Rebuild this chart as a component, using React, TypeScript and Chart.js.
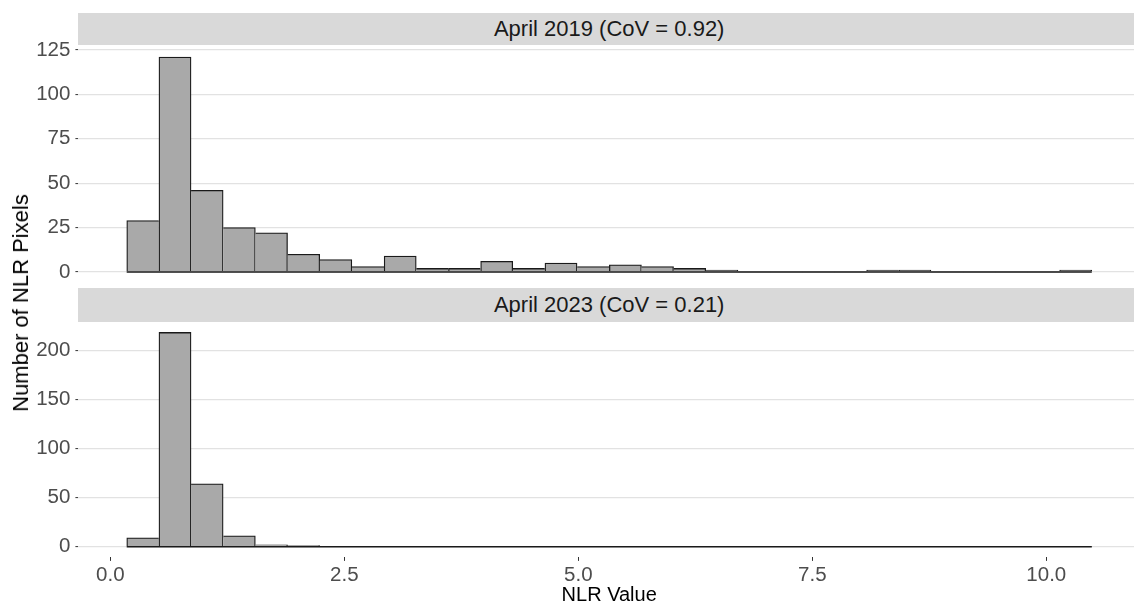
import React, { useEffect, useRef } from 'react';
import { Chart, registerables } from 'chart.js';

Chart.register(...registerables);

// ---------- data ----------
const binCenters = [
  0.347, 0.691, 1.034, 1.378, 1.722, 2.066, 2.409, 2.753, 3.097, 3.44,
  3.784, 4.128, 4.471, 4.815, 5.159, 5.503, 5.846, 6.19, 6.534, 6.877,
  7.221, 7.565, 7.908, 8.252, 8.596, 8.94, 9.283, 9.627, 9.971, 10.314,
];
const counts2019 = [
  29, 121, 46, 25, 22, 10, 7, 3, 9, 2,
  2, 6, 2, 5, 3, 4, 3, 2, 1, 0,
  0, 0, 0, 1, 1, 0, 0, 0, 0, 1,
];
const counts2023 = [
  9, 218, 64, 11, 2, 1, 0, 0, 0, 0,
  0, 0, 0, 0, 0, 0, 0, 0, 0, 0,
  0, 0, 0, 0, 0, 0, 0, 0, 0, 0,
];
const panelTitles = ['April 2019 (CoV = 0.92)', 'April 2023 (CoV = 0.21)'];
const xTickValues = [0, 2.5, 5, 7.5, 10];
const yTicks2019 = [0, 25, 50, 75, 100, 125];
const yTicks2023 = [0, 50, 100, 150, 200];
const xLimits = [-0.341, 11.001];
const yLimits2019 = [-6.05, 127.05];
const yLimits2023 = [-10.9, 228.9];
const xTitle = 'NLR Value';
const yTitle = 'Number of NLR Pixels';

// ---------- style ----------
const FONT = '"Liberation Sans", Arial, Helvetica, sans-serif';
const BAR_FILL = '#a9a9a9';
const BAR_LINE = '#1a1a1a';
const GRID = '#e2e2e2';
const TICK_TEXT = '#4d4d4d';

function makeChart(
  canvas: HTMLCanvasElement,
  counts: number[],
  yLim: number[],
  yTicks: number[],
  showX: boolean,
  padding: any
) {
  const w = binCenters[1] - binCenters[0];
  const baseline = [
    { x: binCenters[0] - w / 2, y: 0 },
    { x: binCenters[binCenters.length - 1] + w / 2, y: 0 },
  ];
  const bw = (ctx: any) => {
    const i = ctx.dataIndex;
    const v = counts[i];
    if (!v) return 0;
    const prev = i > 0 ? counts[i - 1] : 0;
    const next = i < counts.length - 1 ? counts[i + 1] : 0;
    return { top: 1.3, left: prev <= v ? 1.3 : 0, right: next < v ? 1.3 : 0, bottom: 0 };
  };
  return new Chart(canvas, {
    type: 'bar',
    data: {
      datasets: [
        {
          type: 'line',
          data: baseline,
          borderColor: BAR_LINE,
          borderWidth: 1.4,
          pointRadius: 0,
          order: 0,
        } as any,
        {
          type: 'bar',
          data: binCenters.map((x, i) => ({ x, y: counts[i] })),
          backgroundColor: BAR_FILL,
          borderColor: BAR_LINE,
          borderWidth: bw,
          borderSkipped: false,
          barPercentage: 1,
          categoryPercentage: 1,
          order: 1,
        } as any,
      ],
    },
    options: {
      animation: false,
      responsive: false,
      devicePixelRatio: 1,
      layout: { padding },
      plugins: { legend: { display: false }, tooltip: { enabled: false } },
      scales: {
        x: {
          type: 'linear',
          min: xLimits[0],
          max: xLimits[1],
          offset: false,
          display: showX,
          grid: {
            offset: false,
            drawOnChartArea: false,
            drawTicks: true,
            tickLength: 3.5,
            tickColor: '#333333',
            tickWidth: 1,
          },
          border: { display: false },
          ticks: {
            font: { family: FONT, size: 20.5 },
            color: TICK_TEXT,
            padding: 2,
            maxRotation: 0,
            autoSkip: false,
            callback: (v: any) => Number(v).toFixed(1),
          },
          afterBuildTicks: (s: any) => {
            s.ticks = xTickValues.map((v) => ({ value: v }));
          },
          afterFit: (s: any) => {
            s.height = showX ? 45.6 : 0;
          },
        },
        y: {
          type: 'linear',
          min: yLim[0],
          max: yLim[1],
          grid: {
            color: GRID,
            lineWidth: 1.2,
            drawTicks: true,
            tickLength: 3,
            tickColor: '#333333',
            tickWidth: 1,
          },
          border: { display: false },
          ticks: {
            font: { family: FONT, size: 20.5 },
            color: TICK_TEXT,
            padding: 5,
            callback: (v: any) => String(v),
          },
          afterBuildTicks: (s: any) => {
            s.ticks = yTicks.map((v) => ({ value: v }));
          },
          afterFit: (s: any) => {
            s.width = 78.4;
          },
        },
      },
    } as any,
  });
}

const stripStyle = (top: number, height: number): React.CSSProperties => ({
  position: 'absolute',
  left: 78.4,
  top,
  width: 1140 - 78.4,
  height,
  background: '#d9d9d9',
  color: '#1a1a1a',
  fontFamily: FONT,
  fontSize: 22,
  display: 'flex',
  alignItems: 'center',
  justifyContent: 'center',
  paddingTop: 1,
  boxSizing: 'border-box',
  whiteSpace: 'nowrap',
});

export default function App() {
  const topRef = useRef<HTMLCanvasElement>(null);
  const botRef = useRef<HTMLCanvasElement>(null);

  useEffect(() => {
    const a = makeChart(topRef.current!, counts2019, yLimits2019, yTicks2019, false, {
      top: 46.4,
      bottom: 6.3,
      left: 0,
      right: 1,
    });
    const b = makeChart(botRef.current!, counts2023, yLimits2023, yTicks2023, true, {
      top: 33.7,
      bottom: 0,
      left: 0,
      right: 1,
    });
    return () => {
      a.destroy();
      b.destroy();
    };
  }, []);

  return (
    <div
      style={{
        position: 'absolute',
        left: 0,
        top: 0,
        width: 1134,
        height: 603,
        overflow: 'hidden',
        background: '#ffffff',
        fontFamily: FONT,
      }}
    >
      <canvas
        ref={botRef}
        width={1141}
        height={315}
        style={{ position: 'absolute', left: 0, top: 288, width: 1141, height: 315 }}
      />
      <canvas
        ref={topRef}
        width={1141}
        height={300}
        style={{ position: 'absolute', left: 0, top: 0, width: 1141, height: 300 }}
      />
      <div style={stripStyle(12.7, 32.3)}>{panelTitles[0]}</div>
      <div style={stripStyle(288.3, 33.4)}>{panelTitles[1]}</div>
      <div
        style={{
          position: 'absolute',
          left: 21,
          top: 303,
          transform: 'translate(-50%, -50%) rotate(-90deg)',
          fontFamily: FONT,
          fontSize: 22,
          lineHeight: '22px',
          color: '#000000',
          whiteSpace: 'nowrap',
        }}
      >
        {yTitle}
      </div>
      <div
        style={{
          position: 'absolute',
          left: 609.2,
          top: 584.1,
          transform: 'translateX(-50%)',
          fontFamily: FONT,
          fontSize: 20,
          lineHeight: '20px',
          color: '#000000',
          whiteSpace: 'nowrap',
        }}
      >
        {xTitle}
      </div>
    </div>
  );
}
